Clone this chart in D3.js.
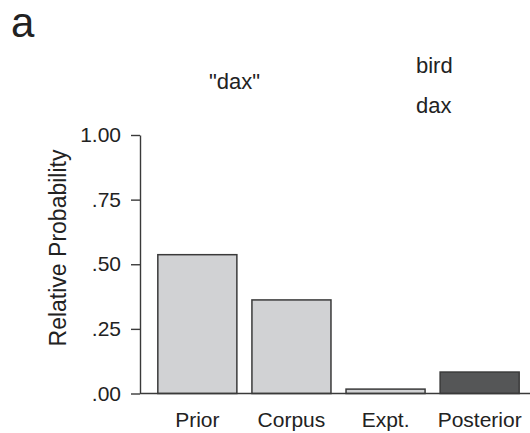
<!DOCTYPE html>
<html>
<head>
<meta charset="utf-8">
<script src="https://cdn.jsdelivr.net/npm/d3@7"></script>
<style>
	body { margin: 0; background: #fff; }
	svg { display: block; font-family: 'Liberation Sans', Arial, sans-serif; }
</style>
</head>
<body>
<div id="chart"></div>
<script>
const categories = ['Prior', 'Corpus', 'Expt.', 'Posterior'];
const values = [0.537, 0.362, 0.017, 0.083];
const yTicks = [0, 0.25, 0.5, 0.75, 1];
const yTickLabels = ['.00', '.25', '.50', '.75', '1.00'];
const panelLabel = 'a';
const wordLabel = '"dax"';
const legendWords = ['bird', 'dax'];
const yTitle = 'Relative Probability';

const size = { width: 530, height: 433 };
const plot = { left: 140, right: 530, top: 135, bottom: 393.5 };

const fill = d => d === 'Posterior' ? '#555657' : '#d1d2d4';

const scale = {
	x: d3.scaleBand().domain(categories).range([150.3, 526.7])
		.paddingInner(0.16).paddingOuter(0.08),
	y: d3.scaleLinear().domain([0, 1]).range([plot.bottom, plot.top]),
};

const svg = d3.select('#chart').append('svg')
	.attr('width', size.width).attr('height', size.height);
svg.append('rect').attr('width', size.width).attr('height', size.height).attr('fill', '#fff');

// bars
svg.append('g').selectAll('rect')
	.data(categories)
	.join('rect')
	.attr('x', d => scale.x(d))
	.attr('width', scale.x.bandwidth())
	.attr('y', (d, i) => scale.y(values[i]))
	.attr('height', (d, i) => scale.y(0) - scale.y(values[i]))
	.attr('fill', d => fill(d))
	.attr('stroke', '#3a3a3a')
	.attr('stroke-width', 1.5);

// y axis
const yAxis = svg.append('g')
	.attr('transform', `translate(${plot.left},0)`)
	.call(d3.axisLeft(scale.y).tickValues(yTicks)
		.tickFormat((d, i) => yTickLabels[i])
		.tickSizeInner(9).tickSizeOuter(0).tickPadding(10));

// x axis (baseline only, labels below)
const xAxis = svg.append('g')
	.attr('transform', `translate(0,${scale.y(0)})`)
	.call(d3.axisBottom(scale.x).tickSize(0).tickPadding(19));
xAxis.select('.domain').attr('d', `M${plot.left},0H${plot.right}`);

[yAxis, xAxis].forEach(a => {
	a.selectAll('.domain, line').attr('stroke', '#3a3a3a').attr('stroke-width', 1.4);
	a.selectAll('text').attr('fill', '#222').attr('font-size', 21)
		.attr('font-family', "'Liberation Sans', Arial, sans-serif");
});

// y title
svg.append('text')
	.attr('transform', 'translate(66,248) rotate(-90)')
	.attr('text-anchor', 'middle')
	.attr('font-size', 23).attr('fill', '#222')
	.text(yTitle);

// panel letter and labels
svg.append('text').attr('x', 11).attr('y', 37)
	.attr('font-size', 42).attr('fill', '#222').text(panelLabel);

svg.append('text').attr('x', 234.5).attr('y', 89).attr('text-anchor', 'middle')
	.attr('font-size', 22).attr('fill', '#222').text(wordLabel);

svg.append('g').selectAll('text')
	.data(legendWords)
	.join('text')
	.attr('x', 416)
	.attr('y', (d, i) => 73 + i * 40)
	.attr('font-size', 22).attr('fill', '#222')
	.text(d => d);
</script>
</body>
</html>
